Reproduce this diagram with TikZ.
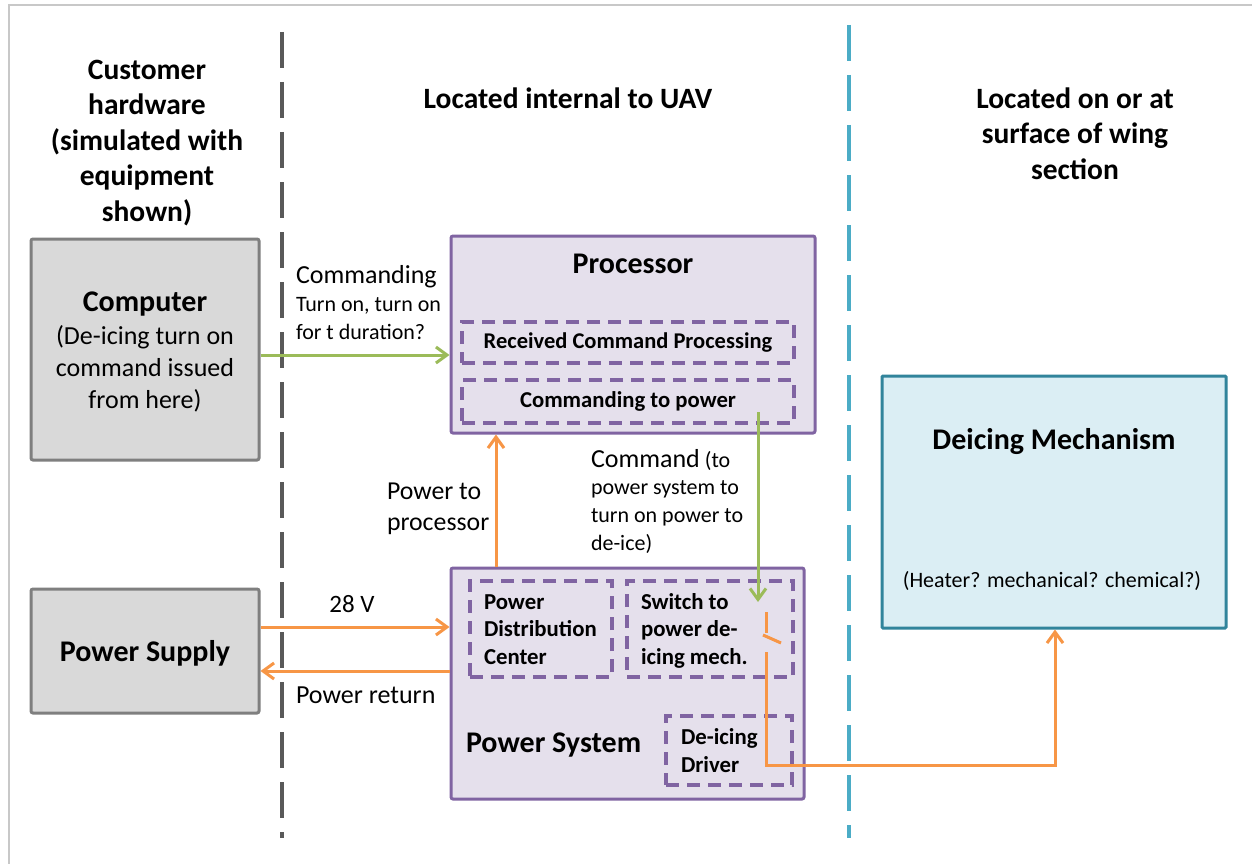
\documentclass[tikz,border=0pt]{standalone}
\usepackage{fontspec}
\setmainfont{Carlito}
\usetikzlibrary{arrows.meta}

\definecolor{framegrey}{HTML}{C8C8C8}
\definecolor{divgrey}{HTML}{595959}
\definecolor{divteal}{HTML}{4BACC6}
\definecolor{hwfill}{HTML}{D9D9D9}
\definecolor{hwline}{HTML}{7F7F7F}
\definecolor{uavfill}{HTML}{E5E0EC}
\definecolor{uavline}{HTML}{8064A2}
\definecolor{wingfill}{HTML}{DBEEF4}
\definecolor{wingline}{HTML}{31849B}
\definecolor{cmdgreen}{HTML}{9BBB59}
\definecolor{pwrorange}{HTML}{F79646}

\newcommand\fsz[2]{\fontsize{#1}{#2}\selectfont}

\tikzset{
  hwbox/.style={draw=hwline, fill=hwfill, line width=3pt, rounded corners=2pt, inner sep=0pt},
  uavbox/.style={draw=uavline, fill=uavfill, line width=3pt, rounded corners=2pt, inner sep=0pt},
  wingbox/.style={draw=wingline, fill=wingfill, line width=3pt, rounded corners=1pt, inner sep=0pt},
  subbox/.style={draw=uavline, line width=3.3pt, dash pattern=on 13pt off 8pt, inner sep=0pt},
  divider/.style={line width=4pt, dash pattern=on 36pt off 14pt},
  txt/.style={inner sep=0pt, outer sep=0pt},
  heading/.style={txt, align=center, font=\fsz{29.5}{35.6}\bfseries},
  boxtitle/.style={txt, font=\fsz{30}{36}\bfseries},
  subtitle/.style={txt, align=left, font=\fsz{22.8}{27.5}\bfseries},
  note/.style={txt, align=left, font=\fsz{22}{27.6}},
  arrowtip/.style={-{Straight Barb[length=11pt,width=16pt]}},
  cmdline/.style={draw=cmdgreen, line width=3pt, arrowtip},
  pwrline/.style={draw=pwrorange, line width=3pt},
}

\begin{document}
\begin{tikzpicture}[x=1pt, y=-1pt]
\useasboundingbox (0,0) rectangle (1252,864);
\fill[white] (0,0) rectangle (1252,864);
\draw[framegrey, line width=2pt] (9,864) -- (9,5) -- (1252,5);

% column dividers
\draw[divider, divgrey] (282,32) -- (282,838);
\draw[divider, divteal] (849,25) -- (849,838);

% column headings (multi-line nodes sit on the baseline of their last line)
\node[heading, anchor=base] (hdcust) at (147,221.5) {Customer\\hardware\\(simulated with\\equipment\\shown)};
\node[heading, anchor=base] (hduav) at (568,108.5) {Located internal to UAV};
\node[heading, anchor=base] (hdwing) at (1075,179.5) {Located on or at\\surface of wing\\section};

% main blocks
\node[hwbox, minimum width=228pt, minimum height=221pt] (computer) at (145,349.5) {};
\node[hwbox, minimum width=228pt, minimum height=124pt] (supply) at (145,651) {};
\node[uavbox, minimum width=364pt, minimum height=197pt] (processor) at (633,334.5) {};
\node[uavbox, minimum width=353pt, minimum height=231pt] (powersys) at (627.5,683.5) {};
\node[wingbox, minimum width=344pt, minimum height=252pt] (deicing) at (1054,502) {};

% functions inside the blocks
\node[subbox, minimum width=332pt, minimum height=41pt, font=\fsz{22.5}{27}\bfseries] (rcp) at (628,342.5) {Received Command Processing};
\node[subbox, minimum width=332pt, minimum height=43pt, font=\fsz{22.7}{27}\bfseries] (ctp) at (628,401.5) {Commanding to power};
\node[subbox, minimum width=142pt, minimum height=96pt] (pdcbox) at (541,629) {};
\node[subbox, minimum width=166pt, minimum height=96pt] (swbox) at (710,629) {};
\node[subbox, minimum width=126pt, minimum height=69pt] (drvbox) at (729,750.5) {};

% block texts
\node[boxtitle, anchor=base] (comptitle) at (145,311.7) {Computer};
\node[txt, align=center, font=\fsz{26}{32}, anchor=base] (compdesc) at (145,408) {(De-icing turn on\\command issued\\from here)};
\node[boxtitle, anchor=base] (supplytitle) at (145,661) {Power Supply};
\node[boxtitle, anchor=base] (proctitle) at (633,273.5) {Processor};
\node[boxtitle, anchor=base west] (pstitle) at (466,752) {Power System};
\node[subtitle, anchor=base west] (pdc) at (484,664) {Power\\Distribution\\Center};
\node[subtitle, anchor=base west] (swtext) at (641,664) {Switch to\\power de-\\icing mech.};
\node[subtitle, anchor=base west] (drvtext) at (681,772) {De-icing\\Driver};
\node[boxtitle, anchor=base] (dititle) at (1054,449) {Deicing Mechanism};
\node[txt, font=\fsz{22}{27}, anchor=base] (dinote) at (1052,587) {(Heater? mechanical? chemical?)};

% connector labels
\node[note, anchor=base west] (cmdlabel) at (296,339) {{\fsz{26}{29}Commanding}\\Turn on, turn on\\for t duration?};
\node[txt, align=left, font=\fsz{25.8}{31}, anchor=base west] (pwrproc) at (387,530) {Power to\\processor};
\node[note, anchor=base west] (cmdpwr) at (591,550) {{\fsz{26}{29}Command} (to\\power system to\\turn on power to\\de-ice)};
\node[txt, font=\fsz{25}{30}, anchor=base] (v28) at (352,612) {28 V};
\node[txt, font=\fsz{26}{31}, anchor=base west] (pret) at (296,703) {Power return};

% switch contacts
\coordinate (cmdout) at (758,412);
\coordinate (swin) at (758,602);
\coordinate (swtop) at (766,612);
\coordinate (swpivot) at (766,633);
\coordinate (bladeA) at (763,635);
\coordinate (bladeB) at (781,643);
\coordinate (swbot) at (766,652);

% connectors
\draw[cmdline] (computer.east |- 0,355) -- (processor.west |- 0,355);
\draw[cmdline] (cmdout) -- (swin);
\draw[pwrline, arrowtip] (supply.east |- 0,627) -- (powersys.west |- 0,627);
\draw[pwrline, arrowtip] (powersys.west |- 0,671) -- (supply.east |- 0,671);
\draw[pwrline, arrowtip] (powersys.north -| 496,0) -- (processor.south -| 496,0);
\draw[pwrline] (swtop) -- (swpivot);
\draw[pwrline] (bladeA) -- (bladeB);
\draw[pwrline, arrowtip] (swbot) |- (1055,765) -- (deicing.south -| 1055,0);
\end{tikzpicture}
\end{document}
